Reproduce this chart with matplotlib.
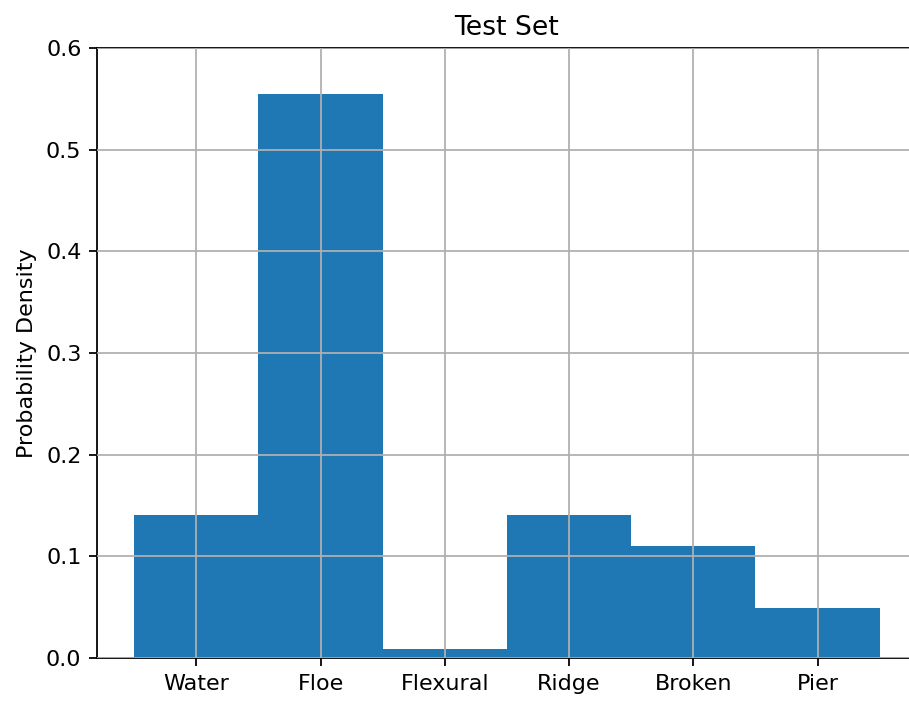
import numpy as np
import matplotlib
matplotlib.use("Agg")
import matplotlib.pyplot as plt

classes = ['Water', 'Floe', 'Flexural', 'Ridge', 'Broken', 'Pier']
density = [0.1407, 0.5547, 0.0085, 0.1407, 0.1102, 0.0495]

fig = plt.figure(figsize=(909 / 160, 701 / 160), dpi=160)
# axes run slightly past the right edge of the figure
ax = fig.add_axes([0.1067, 0.0613, 0.902, 0.8702])

x = np.arange(len(classes))
ax.bar(x, density, width=1.0, color='#1f77b4')
ax.set_xticks(x)
ax.set_xticklabels(classes)
ax.set_ylim(0, 0.6)
ax.set_yticks([0.0, 0.1, 0.2, 0.3, 0.4, 0.5, 0.6])
ax.set_axisbelow(False)
ax.grid(True)
ax.set_ylabel('Probability Density')
ax.set_title('Test Set', fontsize=12)

fig.savefig('out.png', dpi=160)
